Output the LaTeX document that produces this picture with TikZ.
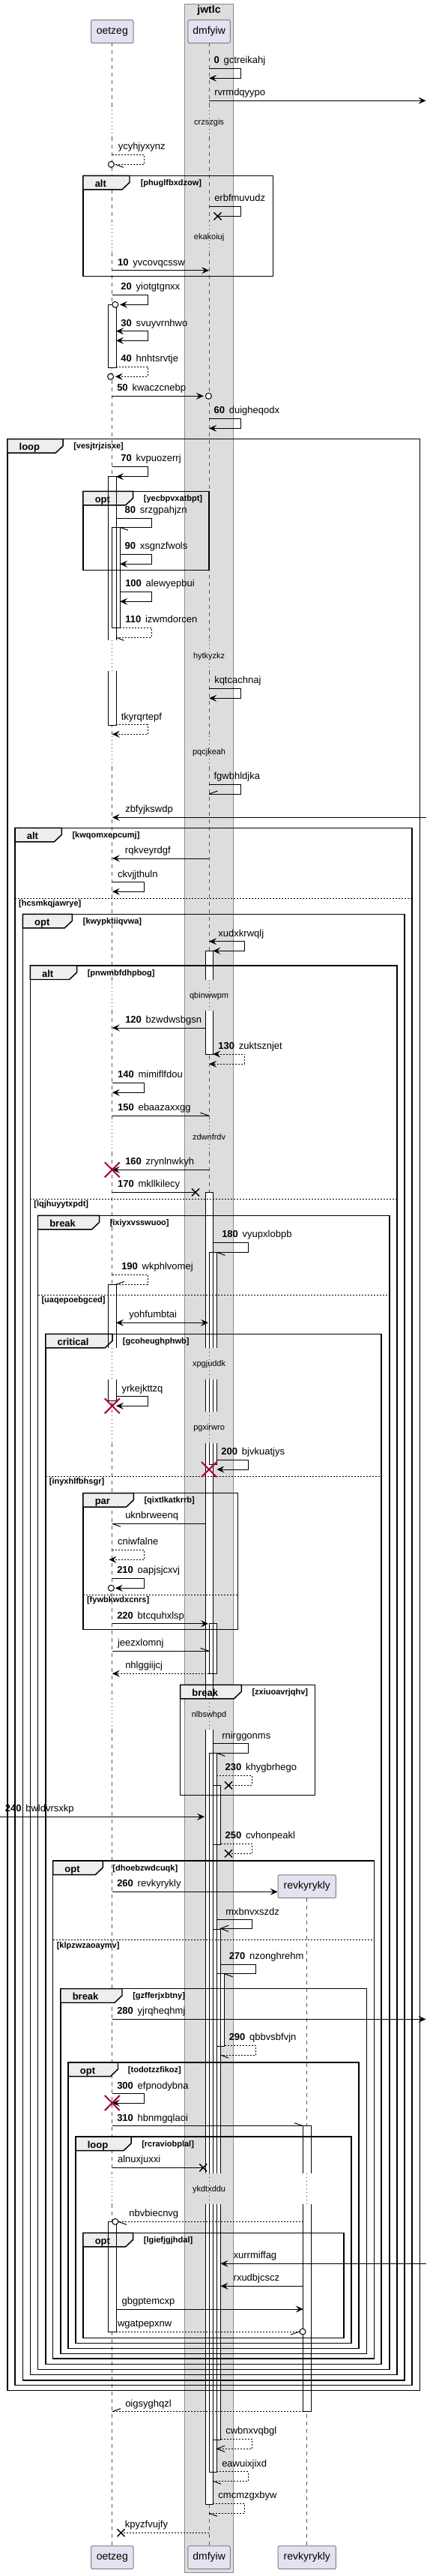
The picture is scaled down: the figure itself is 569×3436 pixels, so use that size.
\documentclass[tikz,border=0pt]{standalone}
\usepackage{fontspec}
\setmainfont{Liberation Sans}
\usetikzlibrary{arrows.meta}
\definecolor{plred}{HTML}{A80036}
\definecolor{partfill}{HTML}{E2E2F0}
\definecolor{tabfill}{HTML}{EEEEEE}
\definecolor{boxfill}{HTML}{DDDDDD}
\newcommand\fsmsg{\fontsize{9.75pt}{11pt}\selectfont}
\newcommand\fssmall{\fontsize{8.25pt}{10pt}\selectfont}
\newcommand\fspart{\fontsize{10.5pt}{12pt}\selectfont}
\tikzset{
 msgline/.style={line width=0.75pt,black},
 dsh/.style={dash pattern=on 1.5pt off 1.5pt},
 full/.style={-{Stealth[length=7.5pt,width=6.75pt,inset=3pt]}},
 fullboth/.style={{Stealth[length=7.5pt,width=6.75pt,inset=3pt]}-{Stealth[length=7.5pt,width=6.75pt,inset=3pt]}},
 msg/.style={font=\fsmsg,inner sep=0pt,anchor=base west},
 flabel/.style={font=\fssmall\bfseries,inner sep=0pt,anchor=base west},
 ftitle/.style={font=\fsmsg\bfseries,inner sep=0pt,anchor=base west},
 dly/.style={font=\fssmall,inner sep=0pt,anchor=base},
 part/.style={draw=black!50,fill=partfill,line width=0.75pt,rounded corners=1.5pt,font=\fspart,inner sep=0pt},
 frameline/.style={line width=1.1pt,black},
 elsel/.style={line width=0.75pt,black,dash pattern=on 1.5pt off 1.5pt},
 lifeline/.style={line width=0.6pt,black!65,dash pattern=on 3.75pt off 3.75pt},
 dotl/.style={line width=0.75pt,plred,dash pattern=on 0.75pt off 3pt},
 act/.style={line width=0.75pt,black},
}
% message label: x, line y, text
\newcommand\ml[3]{\node[msg] at (#1,{#2-6.5}) {#3};}
% frame: x1 x2 top bottom tabw title label labelx
\newcommand\frm[8]{%
 \draw[frameline] (#1,#3) rectangle (#2,#4);
 \filldraw[frameline,fill=tabfill] (#1,#3) -- ({#1+#5},#3) -- ({#1+#5},{#3+9}) -- ({#1+#5-10},{#3+18.5}) -- (#1,{#3+18.5}) -- cycle;
 \node[ftitle] at ({#1+15.5},{#3+15}) {#6};
 \node[flabel] at (#8,{#3+13}) {#7};}
\newcommand\els[4]{\draw[elsel] (#1,#3) -- (#2,#3); \node[flabel] at ({#1+4.8},{#3+10.5}) {#4};}
% activation boxes: x1 x2 y1 y2 ; two passes (fills, then outlines)
\newcommand\actfillmode{%
 \def\abox##1##2##3##4{\fill[white] (##1,##3) rectangle (##2,##4);}%
 \let\aboxnb\abox \let\aboxnt\abox \let\aboxn\abox}
\newcommand\actlinemode{%
 \def\abox##1##2##3##4{\draw[act] (##1,##3) rectangle (##2,##4);}%
 \def\aboxnb##1##2##3##4{\draw[act] (##1,##4) -- (##1,##3) -- (##2,##3) -- (##2,##4);}%
 \def\aboxnt##1##2##3##4{\draw[act] (##1,##3) -- (##1,##4) -- (##2,##4) -- (##2,##3);}%
 \def\aboxn##1##2##3##4{\draw[act] (##1,##3) -- (##1,##4) (##2,##3) -- (##2,##4);}}
\newcommand\actlist{%
\abox{144.7}{155}{406.3}{490}
\aboxnb{144.7}{155}{635.7}{854}
\aboxnt{144.7}{155}{895}{967.3}
\abox{149.8}{160.1}{703.3}{837.7}
\aboxnb{274}{284.2}{1268.3}{1306.7}
\aboxnt{274}{284.2}{1348.3}{1406.7}
\aboxnb{274}{284.2}{1590.3}{1798.3}
\aboxn{274}{284.2}{1840}{1883.3}
\aboxn{274}{284.2}{1925}{2266}
\aboxn{274}{284.2}{2306.7}{2899.3}
\aboxnt{274}{284.2}{2940}{3340}
\aboxnb{279.1}{289.4}{1670.3}{1798.3}
\aboxn{279.1}{289.4}{1840}{1883.3}
\aboxnt{279.1}{289.4}{1925}{1953.3}
\aboxnb{144.7}{155}{1713.3}{1798.3}
\aboxnt{144.7}{155}{1840}{1868.3}
\abox{279.1}{289.4}{2165.7}{2232.3}
\aboxnb{279.1}{289.4}{2338.3}{2899.3}
\aboxnt{279.1}{289.4}{2940}{3297.3}
\abox{284.2}{294.5}{2381.3}{2460}
\aboxnb{284.2}{294.5}{2573.3}{2899.3}
\aboxnt{284.2}{294.5}{2940}{3254}
\abox{289.4}{299.6}{2632.7}{2729}
\aboxnb{404.8}{415}{2835.7}{2899.3}
\aboxnt{404.8}{415}{2940}{3216.7}
\abox{144.7}{155}{2963.3}{3110}}
% ends
\newcommand\xm[2]{\draw[line width=1.1pt] ({#1-5},{#2-5}) -- ({#1+5},{#2+5}) ({#1-5},{#2+5}) -- ({#1+5},{#2-5});}
\newcommand\rx[2]{\draw[plred,line width=1.5pt] ({#1-10},{#2-10}) -- ({#1+10},{#2+10}) ({#1-10},{#2+10}) -- ({#1+10},{#2-10});}
\newcommand\cm[2]{\draw[msgline,fill=white] (#1,#2) circle (3pt);}
\newcommand\bb[4]{\draw[msgline] (#1,#2) -- (#3,#4);}

\begin{document}
\begin{tikzpicture}[x=0.75pt,y=-0.75pt]
\useasboundingbox (0,0) rectangle (569,3436);
\fill[white] (0,0) rectangle (569,3436);
% box jwtlc
\draw[fill=boxfill,draw=black!45,line width=0.75pt] (246.5,6) rectangle (311.4,3431);
\node[font=\fspart\bfseries,anchor=base,inner sep=0pt] (jwtlc) at (279,18) {jwtlc};

% lifelines
\def\dashsegs{57.3/141.7, 182.7/295, 336.7/854, 895/981.7, 1023/1306.7, 1348.3/1496, 1537/1798.3, 1840/1883.3, 1925/2266, 2306.7/2899.3, 2940/3395.7}
\foreach \a/\b in \dashsegs {
  \draw[lifeline] (149.8,\a) -- (149.8,\b);
  \draw[lifeline] (279.1,\a) -- (279.1,\b);
}
\foreach \a/\b/\dtxt in {141.7/182.7/crzszgis, 295/336.7/ekakoiuj, 854/895/hytkyzkz, 981.7/1023/pqcjkeah, 1306.7/1348.3/qbinwwpm, 1496/1537/zdwnfrdv, 1798.3/1840/xpgjuddk, 1883.3/1925/pgxirwro, 2266/2306.7/nlbswhpd, 2899.3/2940/ykdtxddu} {
  \draw[dotl] (149.8,\a) -- (149.8,\b);
  \draw[dotl] (279.1,\a) -- (279.1,\b);
  \node[dly] at (279.1,{\a+24.5}) {\dtxt};
}
\draw[lifeline] (409.8,2532.3) -- (409.8,2899.3);
\draw[dotl] (409.8,2899.3) -- (409.8,2940);
\draw[lifeline] (409.8,2940) -- (409.8,3395.7);

% participants
\node[part,minimum width=42.3pt,minimum height=23pt] (oetzegA) at (149.8,42) {oetzeg};
\node[part,minimum width=42.3pt,minimum height=23pt] (dmfyiwA) at (279.1,42) {dmfyiw};
\node[part,minimum width=42.3pt,minimum height=23pt] (oetzegB) at (149.8,3411.2) {oetzeg};
\node[part,minimum width=42.3pt,minimum height=23pt] (dmfyiwB) at (279.1,3411.2) {dmfyiw};
\node[part,minimum width=58pt,minimum height=23pt] (revA) at (409.8,2516.3) {revkyrykly};
\node[part,minimum width=58pt,minimum height=23pt] (revB) at (409.8,3411.2) {revkyrykly};

% activation fills
\actfillmode
\actlist

% frames
\frm{111}{364.5}{234.3}{368.3}{62}{alt}{[phuglfbxdzow]}{187.5}
\frm{9.9}{560.4}{585.7}{3188.3}{74.3}{loop}{[vesjtrjzisxe]}{98}
\frm{111}{279.1}{655.3}{760.7}{66.7}{opt}{[yecbpvxatbpt]}{191.6}
\frm{20.1}{550.2}{1104.3}{3181.7}{62.3}{alt}{[kwqomxepcumj]}{96.3}
\els{20.1}{550.2}{1198.3}{[hcsmkqjawrye]}
\frm{30.4}{540}{1219.3}{3175}{65.9}{opt}{[kwypktiiqvwa]}{110.6}
\frm{40.3}{530}{1288}{3167.7}{62.3}{alt}{[pnwmbfdhpbog]}{116.5}
\els{40.3}{530}{1599}{[lqjhuyytxpdt]}
\frm{50.5}{519.8}{1621.3}{3160.7}{82.1}{break}{[ixiyxvsswuoo]}{146.5}
\els{50.5}{519.8}{1727.3}{[uaqepoebgced]}
\frm{60.8}{509.2}{1779.3}{3153.3}{89.4}{critical}{[gcoheughphwb]}{163.7}
\els{60.8}{509.2}{1969}{[inyxhlfbhsgr]}
\frm{111}{317.6}{1991.7}{2173.3}{67.4}{par}{[qixtlkatkrrb]}{192.3}
\els{111}{317.6}{2127.3}{[fywbkwdxcnrs]}
\frm{240.7}{420.5}{2247.3}{2394.3}{81.6}{break}{[zxiuoavrjqhv]}{336.3}
\frm{70.7}{499.6}{2482}{3146}{66.7}{opt}{[dhoebzwdcuqk]}{150.2}
\els{70.7}{499.6}{2587.7}{[klpzwzaoaymv]}
\frm{81}{489.4}{2652.7}{3139.3}{82}{break}{[gzfferjxbtny]}{177}
\frm{91.2}{479.1}{2751}{3132.7}{66.3}{opt}{[todotzzfikoz]}{170.7}
\frm{101.1}{468.9}{2850}{3125.7}{74}{loop}{[rcraviobplal]}{189}
\frm{111}{459}{2978.3}{3118.3}{66.7}{opt}{[lgiefjgjhdal]}{191.6}

% activation outlines
\actlinemode
\actlist

% messages
\draw[msgline,full] (279.1,91.3) -- (321.6,91.3) -- (321.6,104.3) -- (279.1,104.3);
\ml{285.3}{91.3}{\textbf{0}\, gctreikahj}
\draw[msgline,full] (279.1,134.3) -- (568.5,134.3);
\ml{286}{134.3}{rvrmdqyypo}
\draw[msgline,dsh] (149.8,206.3) -- (192.3,206.3) -- (192.3,219.3) -- (152.4,219.3);
\cm{148.4}{219.3} \bb{153.8}{219.3}{164.8}{223.3}
\ml{157.5}{206.3}{ycyhjyxynz}
\draw[msgline] (279.1,275.3) -- (321.6,275.3) -- (321.6,288.3) -- (290.5,288.3);
\xm{290.5}{288.3}
\ml{286}{275.3}{erbfmuvudz}
\draw[msgline,full] (149.8,360.7) -- (279.1,360.7);
\ml{156.8}{360.7}{\textbf{10}\, yvcovqcssw}
\draw[msgline,full] (149.8,393.3) -- (197,393.3) -- (197,406.3) -- (160,406.3);
\cm{153.8}{406.3}
\ml{161.2}{393.3}{\textbf{20}\, yiotgtgnxx}
\draw[msgline,fullboth] (155,441.7) -- (197,441.7) -- (197,454.3) -- (155,454.3);
\ml{161.2}{441.7}{\textbf{30}\, svuyvrnhwo}
\draw[msgline,dsh,full] (155,489.3) -- (197,489.3) -- (197,502.3) -- (153.8,502.3);
\cm{147.6}{502.3}
\ml{161.2}{489.3}{\textbf{40}\, hnhtsrvtje}
\draw[msgline,full] (149.8,528.3) -- (271.8,528.3);
\cm{278.4}{528.3}
\ml{156}{528.3}{\textbf{50}\, kwaczcnebp}
\draw[msgline,full] (279.1,558.3) -- (321.6,558.3) -- (321.6,571.3) -- (279.1,571.3);
\ml{285.3}{558.3}{\textbf{60}\, duigheqodx}
\draw[msgline,full] (149.8,622.3) -- (197,622.3) -- (197,635.7) -- (155,635.7);
\ml{161.2}{622.3}{\textbf{70}\, kvpuozerrj}
\draw[msgline] (155,691.3) -- (202.2,691.3) -- (202.2,703.3) -- (160.1,703.3);
\bb{160.1}{703.3}{171}{707.3}
\ml{166.3}{691.3}{\textbf{80}\, srzgpahjzn}
\draw[msgline,full] (160.1,739.3) -- (202.2,739.3) -- (202.2,752.3) -- (160.1,752.3);
\ml{166.3}{739.3}{\textbf{90}\, xsgnzfwols}
\draw[msgline,full] (160.1,789.3) -- (202.2,789.3) -- (202.2,802.3) -- (160.1,802.3);
\ml{167}{789.3}{\textbf{100}\, alewyepbui}
\draw[msgline,dsh] (160.1,837.3) -- (202.2,837.3) -- (202.2,850.3) -- (155,850.3);
\bb{155}{850.3}{165.5}{854.3}
\ml{167}{837.3}{\textbf{110}\, izwmdorcen}
\draw[msgline,full] (279.1,918.3) -- (321.6,918.3) -- (321.6,931.3) -- (279.1,931.3);
\ml{286}{918.3}{kqtcachnaj}
\draw[msgline,dsh,full] (155,966.7) -- (197,966.7) -- (197,979.3) -- (149.8,979.3);
\ml{161.5}{966.7}{tkyrqrtepf}
\draw[msgline] (279.1,1046.3) -- (321.6,1046.3) -- (321.6,1059) -- (279.1,1059);
\bb{279.1}{1059}{290.5}{1055}
\ml{285.3}{1046.3}{fgwbhldjka}
\draw[msgline,full] (568.5,1090.3) -- (149.8,1090.3);
\ml{167}{1090.3}{zbfyjkswdp}
\draw[msgline,full] (279.1,1145) -- (149.8,1145);
\ml{166.7}{1145}{rqkveyrdgf}
\draw[msgline,full] (149.8,1176.7) -- (192.3,1176.7) -- (192.3,1189.3) -- (149.8,1189.3);
\ml{156.8}{1176.7}{ckvjjthuln}
\draw[msgline,fullboth] (279.1,1255.7) -- (326.4,1255.7) -- (326.4,1268.3) -- (284.2,1268.3);
\ml{291.2}{1255.7}{xudxkrwqlj}
\draw[msgline,full] (274,1371) -- (149.8,1371);
\ml{167}{1371}{\textbf{120}\, bzwdwsbgsn}
\draw[msgline,dsh,fullboth] (284.2,1406) -- (326.4,1406) -- (326.4,1419.3) -- (279.1,1419.3);
\ml{291.2}{1406}{\textbf{130}\, zuktsznjet}
\draw[msgline,full] (149.8,1444.3) -- (192.3,1444.3) -- (192.3,1457.3) -- (149.8,1457.3);
\ml{156.8}{1444.3}{\textbf{140}\, mimiflfdou}
\draw[msgline] (149.8,1488.3) -- (279.1,1488.3);
\bb{279.1}{1488.3}{267.5}{1484.3}
\ml{156.8}{1488.3}{\textbf{150}\, ebaazaxxgg}
\draw[msgline,full] (279.1,1560.3) -- (149.8,1560.3);
\rx{149.8}{1560.3}
\ml{167}{1560.3}{\textbf{160}\, zrynlnwkyh}
\draw[msgline] (149.8,1590.3) -- (261,1590.3);
\xm{261}{1590.3}
\ml{156.8}{1590.3}{\textbf{170}\, mkllkilecy}
\draw[msgline] (284.2,1657.3) -- (331.5,1657.3) -- (331.5,1670.3) -- (289.4,1670.3);
\bb{289.4}{1670.3}{300.4}{1674.3}
\ml{296}{1657.3}{\textbf{180}\, vyupxlobpb}
\draw[msgline,dsh] (149.8,1700.3) -- (197,1700.3) -- (197,1713.3) -- (155,1713.3);
\bb{155}{1713.3}{166}{1709.3}
\ml{162}{1700.3}{\textbf{190}\, wkphlvomej}
\draw[msgline,fullboth] (155,1764.3) -- (278,1764.3);
\ml{172.2}{1764.3}{yohfumbtai}
\draw[msgline,full] (155,1862.7) -- (197,1862.7) -- (197,1875.3) -- (155,1875.3);
\rx{149.8}{1875.3}
\ml{162.3}{1862.7}{yrkejkttzq}
\draw[msgline,full] (289.4,1947.3) -- (331.5,1947.3) -- (331.5,1960) -- (289.4,1960);
\rx{279.1}{1960}
\ml{295.2}{1947.3}{\textbf{200}\, bjvkuatjys}
\draw[msgline] (274,2032.3) -- (149.8,2032.3);
\bb{149.8}{2032.3}{161}{2036.3}
\ml{167}{2032.3}{uknbrweenq}
\draw[msgline,dsh,full] (149.8,2067.3) -- (192.3,2067.3) -- (192.3,2080.3) -- (145.5,2080.3);
\ml{156.8}{2067.3}{cniwfalne}
\draw[msgline,full] (149.8,2105.3) -- (192.3,2105.3) -- (192.3,2118.3) -- (153.8,2118.3);
\cm{148.4}{2118.3}
\ml{156}{2105.3}{\textbf{210}\, oapjsjcxvj}
\draw[msgline,full] (149.8,2165.7) -- (278,2165.7);
\ml{156}{2165.7}{\textbf{220}\, btcquhxlsp}
\draw[msgline] (149.8,2202.3) -- (279.1,2202.3);
\bb{279.1}{2202.3}{267.5}{2198.3}
\ml{156.8}{2202.3}{jeezxlomnj}
\draw[msgline,dsh,full] (279.1,2232.3) -- (149.8,2232.3);
\ml{167}{2232.3}{nhlggiijcj}
\draw[msgline] (284.2,2325.7) -- (331.5,2325.7) -- (331.5,2338.3) -- (289.4,2338.3);
\bb{289.4}{2338.3}{300.4}{2342.3}
\ml{296}{2325.7}{rnirggonms}
\draw[msgline,dsh] (289.4,2368.3) -- (336.3,2368.3) -- (336.3,2381.3) -- (305,2381.3);
\xm{305}{2381.3}
\ml{300.4}{2368.3}{\textbf{230}\, khygbrhego}
\draw[msgline,full] (0,2423.3) -- (273,2423.3);
\ml{6.6}{2423.3}{\textbf{240}\, bwldvrsxkp}
\draw[msgline,dsh] (294.5,2459.3) -- (336.3,2459.3) -- (336.3,2472.3) -- (305,2472.3);
\xm{305}{2472.3}
\ml{300.4}{2459.3}{\textbf{250}\, cvhonpeakl}
\coordinate (m260) at (149.8,2523.3);
\draw[msgline,full] (m260) -- (revA.west |- m260);
\ml{156}{2523.3}{\textbf{260}\, revkyrykly}
\draw[msgline] (289.4,2560.7) -- (336.3,2560.7) -- (336.3,2572.3) -- (294.5,2572.3);
\draw[msgline] (305,2568.3) -- (294.5,2572.3) -- (305,2576.3);
\ml{301}{2560.7}{mxbnvxszdz}
\draw[msgline] (294.5,2620) -- (341.4,2620) -- (341.4,2632.7) -- (299.6,2632.7);
\bb{299.6}{2632.7}{310.6}{2636.7}
\ml{305.5}{2620}{\textbf{270}\, nzonghrehm}
\draw[msgline,full] (149.8,2693.3) -- (568.5,2693.3);
\ml{156}{2693.3}{\textbf{280}\, yjrqheqhmj}
\draw[msgline,dsh] (299.6,2728.3) -- (341.4,2728.3) -- (341.4,2741) -- (294.5,2741);
\bb{294.5}{2741}{305}{2745}
\ml{305.5}{2728.3}{\textbf{290}\, qbbvsbfvjn}
\draw[msgline,full] (149.8,2792.7) -- (192.3,2792.7) -- (192.3,2805) -- (149.8,2805);
\rx{149.8}{2805}
\ml{156}{2792.7}{\textbf{300}\, efpnodybna}
\draw[msgline] (149.8,2835.7) -- (404.8,2835.7);
\bb{404.8}{2835.7}{393}{2831.7}
\ml{156}{2835.7}{\textbf{310}\, hbnmgqlaoi}
\draw[msgline] (149.8,2891.3) -- (271.2,2891.3);
\xm{271.2}{2891.3}
\ml{156.8}{2891.3}{alnuxjuxxi}
\draw[msgline,dsh] (404.8,2963.3) -- (157.8,2963.3);
\cm{153.8}{2963.3} \bb{157.8}{2963.3}{169}{2967.3}
\ml{172.2}{2963.3}{nbvbiecnvg}
\draw[msgline,full] (568.5,3019.3) -- (294.5,3019.3);
\ml{311.4}{3019.3}{xurrmiffag}
\draw[msgline,full] (404.8,3049.3) -- (294.5,3049.3);
\ml{311.4}{3049.3}{rxudbjcscz}
\draw[msgline,full] (155,3080) -- (404.8,3080);
\ml{162.3}{3080}{gbgptemcxp}
\draw[msgline,dsh] (155,3110) -- (400,3110);
\cm{404}{3110} \bb{400}{3110}{388}{3114}
\ml{156.8}{3110}{wgatpepxnw}
\draw[msgline,dsh] (404.8,3216.7) -- (149.8,3216.7);
\bb{149.8}{3216.7}{161}{3212.7}
\ml{167}{3216.7}{oigsyghqzl}
\draw[msgline,dsh] (294.5,3253.3) -- (336.3,3253.3) -- (336.3,3266.3) -- (289.4,3266.3);
\draw[msgline] (300,3262.3) -- (289.4,3266.3) -- (300,3270.3);
\ml{301}{3253.3}{cwbnxvqbgl}
\draw[msgline,dsh] (289.4,3296.7) -- (331.5,3296.7) -- (331.5,3309.3) -- (284.2,3309.3);
\bb{284.2}{3309.3}{295}{3313.3}
\ml{296}{3296.7}{eawuixjixd}
\draw[msgline,dsh] (284.2,3339.3) -- (326.4,3339.3) -- (326.4,3352.3) -- (279.1,3352.3);
\bb{279.1}{3352.3}{290}{3356.3}
\ml{291.2}{3339.3}{cmcmzgxbyw}
\draw[msgline,dsh] (279.1,3378.3) -- (161.5,3378.3);
\xm{161.5}{3378.3}
\ml{166.7}{3378.3}{kpyzfvujfy}
\end{tikzpicture}
\end{document}
